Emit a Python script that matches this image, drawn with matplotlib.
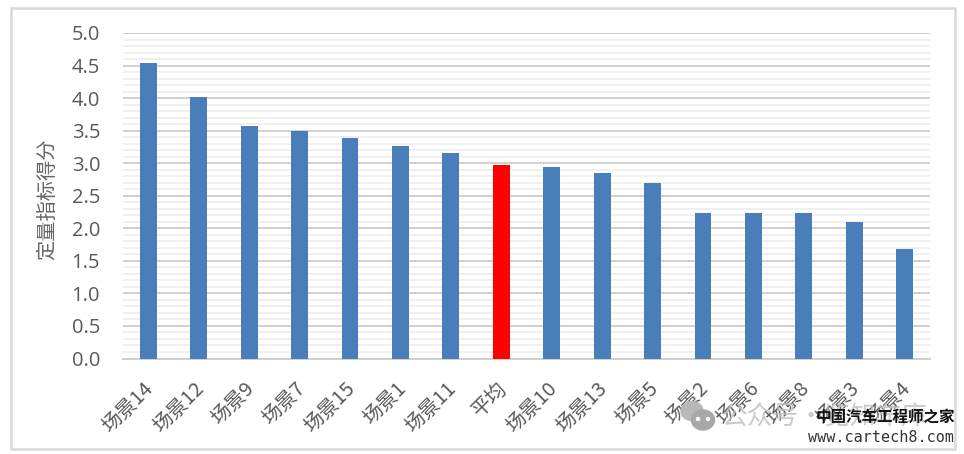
import matplotlib
matplotlib.use("Agg")
import matplotlib.pyplot as plt
from matplotlib.patches import Rectangle, Ellipse
from matplotlib.ticker import MultipleLocator
from matplotlib.transforms import ScaledTranslation

plt.rcParams['font.family'] = ['Noto Sans CJK SC', 'DejaVu Sans']

# ================= DATA =================
scenes = ["场景14", "场景12", "场景9", "场景7", "场景15", "场景1", "场景11", "平均",
          "场景10", "场景13", "场景5", "场景2", "场景6", "场景8", "场景3", "场景4"]
scores = [4.54, 4.02, 3.57, 3.50, 3.38, 3.27, 3.16, 2.97,
          2.94, 2.85, 2.70, 2.23, 2.23, 2.23, 2.10, 1.68]
# ========================================

W, H = 964, 454
BLUE = "#4a7ebb"
RED = "#ff0000"
TEXT = "#595959"
WATERMARK = "#bdbdbd"

fig = plt.figure(figsize=(W / 100, H / 100), dpi=100)
ax = fig.add_axes([123 / W, 1 - 358.5 / H, 807 / W, 325.5 / H])

colors = [RED if s == "平均" else BLUE for s in scenes]
ax.bar(range(len(scenes)), scores, width=0.335, color=colors, zorder=3)

ax.set_xlim(-0.5, len(scenes) - 0.5)
ax.set_ylim(0, 5)
ax.yaxis.set_major_locator(MultipleLocator(0.5))
ax.yaxis.set_minor_locator(MultipleLocator(0.1))
ax.grid(axis="y", which="major", color="#d0d0d0", lw=1.4, zorder=1)
ax.grid(axis="y", which="minor", color="#ececec", lw=1.1, zorder=0)

for side in ["top", "right", "left"]:
    ax.spines[side].set_visible(False)
ax.spines["bottom"].set_color("#cfcfcf")
ax.spines["bottom"].set_linewidth(1.4)
ax.spines["bottom"].set_zorder(2)

ax.tick_params(axis="both", which="both", length=0)
ax.tick_params(axis="y", labelsize=14.5, labelcolor=TEXT, pad=16.5)
ax.set_yticks([i * 0.5 for i in range(11)])
ax.set_yticklabels([f"{i * 0.5:.1f}" for i in range(11)], family="Open Sans")

ax.set_xticks(range(len(scenes)))
ax.set_xticklabels(scenes, rotation=45, ha="right", rotation_mode="anchor",
                   fontsize=14.5, color=TEXT)
ax.tick_params(axis="x", pad=14)
# nudge the slanted labels left, they sit a bit off the bars in the original
shift = ScaledTranslation(-5 / 100, 0, fig.dpi_scale_trans)
for lab in ax.get_xticklabels():
    lab.set_transform(lab.get_transform() + shift)

fig.text(47.5 / W, 1 - 199 / H, "定量指标得分", rotation=90, ha="center", va="center",
         fontsize=14.6, color="#666666")

# outer chart frame
fig.add_artist(Rectangle((10.5 / W, 1 - 449 / H), 944.5 / W, 441 / H, transform=fig.transFigure,
                         fill=False, ec="#d9d9d9", lw=1.8))

# wechat style bubbles of the watermark, in pixels from the top left
def px_ellipse(x, y, w, h, color):
    fig.add_artist(Ellipse((x / W, 1 - y / H), w / W, h / H, transform=fig.transFigure,
                           color=color, zorder=4))

px_ellipse(692, 411, 22, 19, "#b8b8b8")
px_ellipse(703, 420, 23, 20, "#a8a8a8")
px_ellipse(698, 419, 3, 3, "white")
px_ellipse(708, 419, 3, 3, "white")

# watermarks
fig.text(722 / W, 1 - 418 / H, "公众号·览知车库", fontsize=18.5, color=WATERMARK,
         ha="left", va="center", alpha=0.8, zorder=4)
fig.text(885.5 / W, 1 - 417 / H, "中国汽车工程师之家", fontsize=11.2, color="#111111",
         ha="center", va="center", weight="bold", zorder=5)
fig.text(954 / W, 1 - 438 / H, "www.cartech8.com", fontsize=10.9, color="#333333",
         ha="right", va="center", family="DejaVu Sans Mono", zorder=5)

fig.savefig("out.png", dpi=100)
